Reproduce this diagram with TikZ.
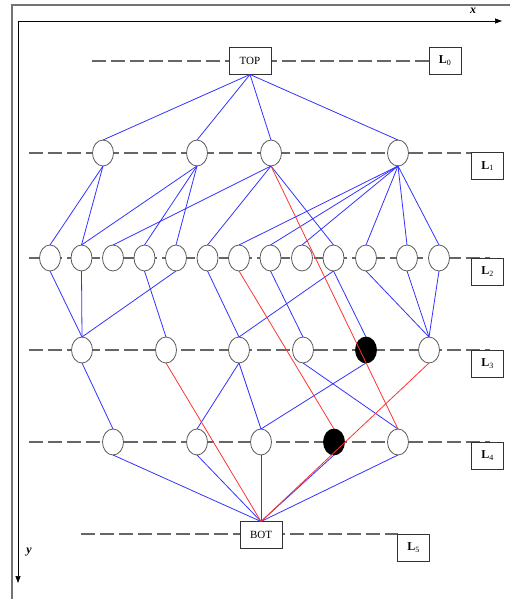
\documentclass[tikz,border=0pt]{standalone}
\usepackage{fontspec}
\setmainfont{Liberation Serif}
\usetikzlibrary{arrows.meta,positioning,shapes.geometric}
\tikzset{
  >={Triangle[length=7pt,width=5pt]},
  vtx/.style={ellipse,draw=black!65,line width=0.8pt,fill=white,
              minimum width=21pt,minimum height=26pt,inner sep=0pt,
              outer sep=0pt},
  hit/.style={vtx,draw=black,fill=black},
  endbox/.style={rectangle,draw=black!80,line width=0.8pt,fill=white,
                 minimum width=42pt,minimum height=27pt,inner sep=0pt,
                 outer sep=0pt,font=\fontsize{11}{11}\selectfont},
  lvlbox/.style={rectangle,draw=black!80,line width=0.8pt,fill=white,
                 minimum width=32pt,minimum height=27pt,inner sep=0pt,
                 font=\fontsize{12}{12}\selectfont},
  lvl/.style={draw=black!60,line width=1.6pt,dash pattern=on 14pt off 5pt},
  bl/.style={draw=blue!80,line width=0.8pt},
  rd/.style={draw=red!80,line width=0.8pt},
  axis/.style={->,line width=0.7pt},
}
\newcommand{\lvlname}[1]{\textbf{L}\textsubscript{#1}}

\begin{document}
\begin{tikzpicture}[x=1pt,y=-1pt,
      every edge/.style={draw,bl}]
    \useasboundingbox (0,0) rectangle (510,599);

    % frame and axes
    \draw[black!55,line width=1.4pt] (12,599) -- (12,5) -- (510,5);
    \coordinate (O)  at (18,21);
    \coordinate (XE) at (502,21);
    \coordinate (YE) at (18,583);
    \draw[axis] (O) -- (XE);
    \draw[axis] (O) -- (YE);
    \node[font=\fontsize{12}{12}\selectfont\bfseries\itshape] (XLAB) at (473,11)  {x};
    \node[font=\fontsize{12}{12}\selectfont\bfseries\itshape] (YLAB) at (29,552) {y};

    % level lines
    \draw[lvl] (92,61)  -- (429,61);
    \draw[lvl] (29,153) -- (490,153);
    \draw[lvl] (29,258) -- (490,258);
    \draw[lvl] (29,350) -- (490,350);
    \draw[lvl] (29,442) -- (490,442);
    \draw[lvl] (81,534) -- (398,534);

    \node[endbox] (TOP) at (250,61)  {TOP};
    \node[endbox] (BOT) at (261,535) {BOT};

    \node[lvlbox] (L0) at (445,61)    {\lvlname{0}};
    \node[lvlbox] (L1) at (487.5,166) {\lvlname{1}};
    \node[lvlbox] (L2) at (487.5,271.5) {\lvlname{2}};
    \node[lvlbox] (L3) at (487.5,364) {\lvlname{3}};
    \node[lvlbox] (L4) at (487.5,455.5) {\lvlname{4}};
    \node[lvlbox] (L5) at (413.5,548) {\lvlname{5}};

    % level 1
    \node[vtx] (A1) at (103,153) {};
    \node[vtx,right=73pt of A1] (A2) {};
    \node[vtx,right=53pt of A2] (A3) {};
    \node[vtx,right=106pt of A3] (A4) {};

    % level 2
    \node[vtx] (B1) at (50,258) {};
    \node[vtx,right=10.5pt of B1]  (B2)  {};
    \node[vtx,right=10.5pt of B2]  (B3)  {};
    \node[vtx,right=10.5pt of B3]  (B4)  {};
    \node[vtx,right=10.5pt of B4]  (B5)  {};
    \node[vtx,right=10.5pt of B5]  (B6)  {};
    \node[vtx,right=10.5pt of B6]  (B7)  {};
    \node[vtx,right=10.5pt of B7]  (B8)  {};
    \node[vtx,right=10.5pt of B8]  (B9)  {};
    \node[vtx,right=10.5pt of B9]  (B10) {};
    \node[vtx,right=11.5pt of B10] (B11) {};
    \node[vtx,right=20pt of B11]   (B12) {};
    \node[vtx,right=11pt of B12]   (B13) {};

    % level 3
    \node[vtx] (C1) at (82,350) {};
    \node[vtx,right=63pt of C1] (C2) {};
    \node[vtx,right=52pt of C2] (C3) {};
    \node[vtx,right=43pt of C3] (C4) {};
    \node[hit,right=42pt of C4] (C5) {};
    \node[vtx,right=42pt of C5] (C6) {};

    % level 4
    \node[vtx] (D1) at (113,442) {};
    \node[vtx,right=63pt of D1] (D2) {};
    \node[vtx,right=43pt of D2] (D3) {};
    \node[hit,right=52pt of D3] (D4) {};
    \node[vtx,right=43pt of D4] (D5) {};

    \path (TOP.south) edge (A1.north) edge (A2.north)
                      edge (A3.north) edge (A4.north);
    \path (A1.south) edge (B1.north) edge (B2.north);
    \path (A2.south) edge (B2.north) edge (B4.north) edge (B5.north);
    \path (A3.south) edge (B3.north) edge (B6.north) edge (B10.north);
    \path (A4.south) edge (B7.north) edge (B8.north) edge (B9.north)
                     edge (B11.north) edge (B12.north) edge (B13.north);
    \path (B1.south)  edge (C1.north);
    \path (B2.south)  edge (C1.north);
    \path (B5.south)  edge (C1.north);
    \path (B4.south)  edge (C2.north);
    \path (B6.south)  edge (C3.north);
    \path (B10.south) edge (C3.north) edge (C5.north);
    \path (B8.south)  edge (C4.north);
    \path (B11.south) edge (C6.north);
    \path (B12.south) edge (C6.north);
    \path (B13.south) edge (C6.north);
    \path (C1.south) edge (D1.north);
    \path (C3.south) edge (D2.north) edge (D3.north);
    \path (C4.south) edge (D5.north);
    \path (C5.south) edge (D3.north);
    \path (D1.south) edge (BOT.north);
    \path (D2.south) edge (BOT.north);
    \path (D3.south) edge (BOT.north);
    \path (D4.south) edge (BOT.north);
    \path (D5.south) edge (BOT.north);
    % red paths
    \path (A3.south) edge[rd] (D5.north);
    \path (B7.south) edge[rd] (D4.north);
    \path (C2.south) edge[rd] (BOT.north);
    \path (C6.south) edge[rd] (BOT.north);
\end{tikzpicture}
\end{document}
